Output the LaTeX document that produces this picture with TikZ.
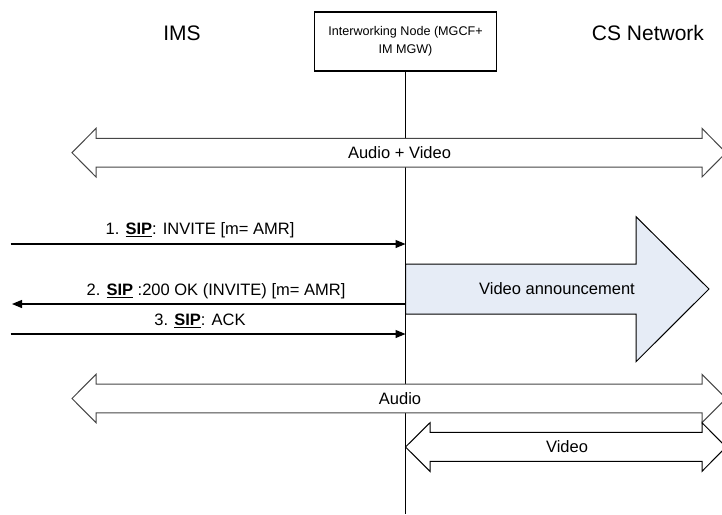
\documentclass[tikz,border=0pt]{standalone}
\usepackage{fontspec}
\setmainfont{Liberation Sans}
\usetikzlibrary{arrows.meta}
\definecolor{annfill}{RGB}{230,236,246}
\definecolor{outl}{RGB}{70,70,70}
\tikzset{
  title/.style={font=\fontsize{21}{25}\selectfont, inner sep=0pt},
  msg/.style={line width=1.2pt, -{Triangle[length=10pt,width=8pt]}},
  msglabel/.style={font=\fontsize{16.5}{19}\selectfont, inner sep=0pt},
  blockarrow/.style={draw=outl, fill=white, line width=1pt, line join=miter},
  annarrow/.style={draw=black, fill=annfill, line width=1pt, line join=miter},
}
\begin{document}
\begin{tikzpicture}[x=1pt,y=-1pt]
\useasboundingbox (0,0) rectangle (722,514);
\clip (0,0) rectangle (722,514);

% titles
\node[title] (ims) at (182,33) {IMS};
\node[title] (cs) at (648,33) {CS Network};

% interworking node and lifeline
\node[draw, line width=1.2pt, minimum width=182pt, minimum height=59pt, align=center,
      font=\fontsize{12.6}{18}\selectfont, inner sep=0pt] (iw) at (405.5,41.5)
      {Interworking Node (MGCF+\\IM MGW)};
\coordinate (lbot) at (405.5,514);
\draw[line width=1.2pt] (iw.south) -- (lbot);

% Audio + Video
\draw[blockarrow] (72,152.7) -- (96,128.4) -- (96,138.3) -- (702,138.3) -- (702,128.4)
  -- (726,152.7) -- (702,177) -- (702,167.1) -- (96,167.1) -- (96,177) -- cycle;
\node[msglabel] (av) at (399.5,152.7) {Audio + Video};

% Video announcement
\draw[annarrow] (405.5,264) -- (636,264) -- (636,216.7) -- (709,289) -- (636,361.7)
  -- (636,314) -- (405.5,314) -- cycle;
\node[msglabel] (va) at (557,289) {Video announcement};

% messages
\coordinate (m1a) at (10.7,244);
\coordinate (m1b) at (405.5,244);
\coordinate (m2a) at (405.5,304);
\coordinate (m2b) at (12,304);
\coordinate (m3a) at (10.7,334);
\coordinate (m3b) at (405.5,334);
\draw[msg] (m1a) -- (m1b);
\draw[msg] (m2a) -- (m2b);
\draw[msg] (m3a) -- (m3b);
\node[msglabel] (l1) at (200,230.7) {1. \underline{\textbf{SIP}}: INVITE [m= AMR]};
\node[msglabel] (l2) at (216,291.7) {2. \underline{\textbf{SIP}} :200 OK (INVITE) [m= AMR]};
\node[msglabel] (l3) at (200,321) {3. \underline{\textbf{SIP}}: ACK};

% Audio
\draw[blockarrow] (72,398.5) -- (96,374.3) -- (96,384) -- (702,384) -- (702,374.3)
  -- (726,398.5) -- (702,422.7) -- (702,412.8) -- (96,412.8) -- (96,422.7) -- cycle;
\node[msglabel] (au) at (400,398.5) {Audio};

% Video
\draw[blockarrow, draw=black] (405.5,447) -- (430,422.7) -- (430,432.4) -- (702,432.4) -- (702,422.7)
  -- (726,447) -- (702,471.3) -- (702,461.3) -- (430,461.3) -- (430,471.3) -- cycle;
\node[msglabel] (vi) at (567,447) {Video};
\end{tikzpicture}
\end{document}
